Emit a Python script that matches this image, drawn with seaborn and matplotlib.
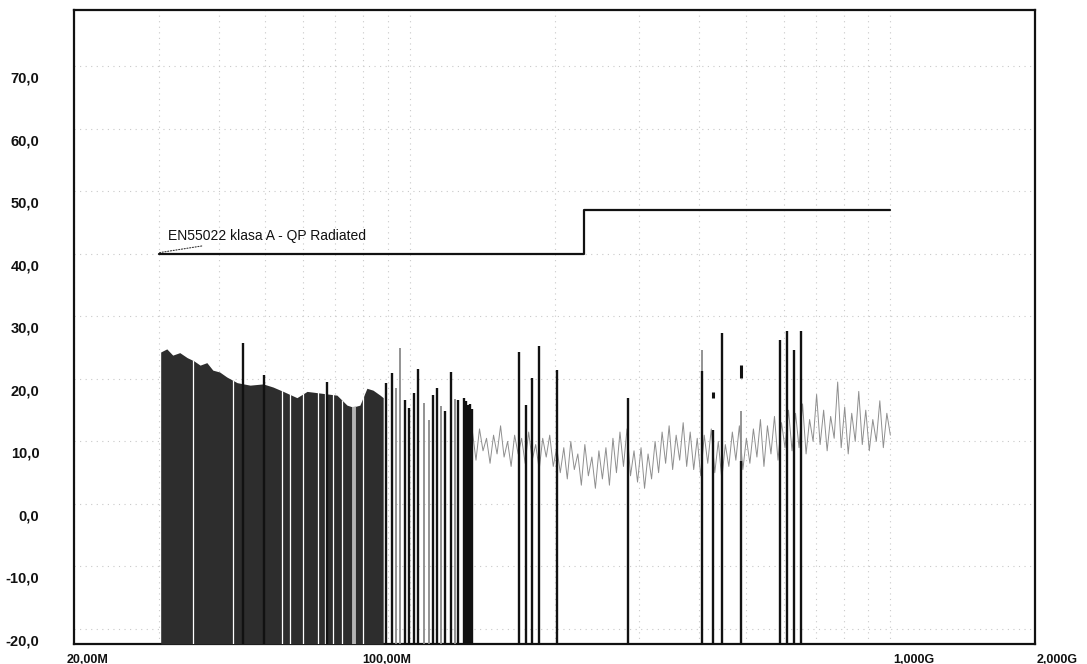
import numpy as np
import matplotlib
matplotlib.use("Agg")
import matplotlib.pyplot as plt
import matplotlib.transforms as mtransforms
from matplotlib.ticker import FixedLocator, NullFormatter
import seaborn as sns

# ---- axes ----
x_ticks_mhz = [20, 100, 1000, 2000]
x_tick_labels = ["20,00M", "100,00M", "1,000G", "2,000G"]
y_ticks = [-20, -10, 0, 10, 20, 30, 40, 50, 60, 70]
y_tick_labels = ["-20,0", "-10,0", "0,0", "10,0", "20,0", "30,0",
                 "40,0", "50,0", "60,0", "70,0"]
x_range_mhz = (20, 2000)
y_range = (-22.4, 79.0)

# ---- limit line ----
limit_name = "EN55022 klasa A - QP Radiated"
limit_freq = [30, 230, 230, 1000]
limit_level = [40, 40, 47, 47]

# ---- dense emission band (envelope of the trace, MHz / dBuV/m) ----
band_freq = [30.3, 31.2, 32.1, 33.2, 34.4, 35.5, 36.6, 37.8, 38.9, 40.2,
             41.6, 43.7, 46.5, 49.5, 51.9, 54.5, 58.2, 61.1, 64.1, 67.2,
             70.5, 74.0, 76.1, 78.7, 81.4, 83.8, 86.7, 88.0]
band_top = [24.3, 24.8, 23.8, 24.2, 23.4, 22.9, 22.2, 22.6, 21.4, 21.1,
            20.3, 19.4, 19.0, 19.2, 18.7, 18.0, 17.0, 18.0, 17.8, 17.6,
            17.4, 15.8, 15.5, 15.8, 18.5, 18.2, 17.4, 17.0]
# thin openings inside the band
gap_freq = [35.4, 42.8, 54.2, 56.3, 59.9, 64.4, 66.6, 69.2, 72.2, 80.0]
pale_freq = [76.6]

# ---- single emission lines ----
bar_freq = [44.9, 49.6, 67.2, 89.2, 91.8, 97.7, 99.6, 102.0, 104.0,
            111.7, 113.9, 118.3, 121.8, 126.0, 129.6, 130.8, 132.0,
            133.3, 134.7, 168.7, 174.5, 179.6, 185.7, 202.4, 284.4,
            405.6, 427.6, 446.4, 488.8, 589.5, 609.4, 630.2, 651.8]
bar_top = [25.8, 20.6, 19.5, 19.3, 20.9, 16.6, 15.3, 17.7, 21.6,
           17.4, 18.5, 14.8, 21.1, 16.6, 16.9, 16.5, 15.8,
           16.0, 15.2, 24.3, 15.8, 20.1, 25.2, 21.4, 16.9,
           21.2, 11.8, 27.3, 6.8, 26.2, 27.7, 24.6, 27.7]
faint_freq = [93.5, 95.4, 107.2, 109.6, 116.1, 124.1, 405.6, 488.8]
faint_top = [18.6, 24.9, 16.2, 13.4, 15.6, 16.8, 24.6, 14.8]
# short isolated trace fragments
mark_freq = [427.6, 488.8]
mark_low = [16.9, 20.2]
mark_high = [17.9, 22.2]

# ---- noise floor trace, 135 MHz .. 1 GHz ----
noise_start_mhz, noise_stop_mhz = 135, 1000
noise_level = [
    11.5, 7.0, 12.0, 8.5, 10.5, 6.5, 11.0, 8.0, 12.5, 7.5, 10.0, 6.0, 11.0, 8.0,
    10.5, 6.5, 11.5, 7.0, 9.5, 5.5, 10.5, 7.5, 11.0, 6.0, 9.0, 5.0,
    9.0, 4.0, 10.0, 5.5, 8.0, 3.0, 9.5, 4.5, 7.5, 2.5, 8.5, 4.0, 9.0, 3.0,
    10.5, 5.0, 11.5, 6.0, 12.0, 4.5,
    8.5, 3.5, 9.0, 2.5, 8.0, 4.0, 10.0, 5.0, 11.5, 6.5, 12.5, 5.5, 11.0, 7.0, 13.0,
    6.0, 11.5, 5.5, 10.5, 4.5, 11.0, 6.5, 12.0, 5.0, 10.0, 4.0, 9.5, 6.0, 11.5,
    7.0, 12.5, 5.5, 10.5,
    6.5, 12.0, 7.5, 13.5, 6.0, 12.5, 8.0, 14.0, 7.0, 13.0, 9.0, 15.0,
    8.5, 14.5, 9.0, 16.0, 8.0, 13.5, 10.0, 17.5, 9.5, 15.0, 8.5, 14.0, 10.5,
    19.5, 9.0, 15.5, 8.0, 14.5, 10.0, 18.0, 9.5, 15.0, 8.5, 13.5, 10.0, 16.5,
    9.0, 14.5, 11.0,
]
noise_freq = np.geomspace(noise_start_mhz, noise_stop_mhz, len(noise_level))

# ---- figure ----
sns.set_theme(style="white")
plt.rcParams["font.family"] = ["Liberation Sans", "DejaVu Sans"]

fig = plt.figure(figsize=(10.87, 6.64), dpi=100)
ax = fig.add_axes([74 / 1087, 20 / 664, 961 / 1087, 634 / 664])
ax.set_xscale("log")
ax.set_xlim(*x_range_mhz)
ax.set_ylim(*y_range)

# grid: log sub-decades on x, every 10 dB on y
minor_x = [m * d for d in (10, 100) for m in range(2, 10)]
ax.xaxis.set_minor_locator(FixedLocator(minor_x))
ax.xaxis.set_minor_formatter(NullFormatter())
ax.set_xticks(x_ticks_mhz)
ax.set_xticklabels(x_tick_labels)
ax.set_yticks(y_ticks)
ax.set_yticklabels(y_tick_labels)
grid_kw = dict(color="#c9c9c9", linestyle=(0, (1, 4)), linewidth=0.8)
ax.grid(True, which="major", axis="both", **grid_kw)
ax.grid(True, which="minor", axis="x", **grid_kw)
ax.set_axisbelow(True)

bottom = y_range[0]

# noise floor
sns.lineplot(x=noise_freq, y=noise_level, estimator=None, sort=False,
             color="#8f8f8f", linewidth=0.7, ax=ax, zorder=2)

# dense band, with its openings clipped to the band outline
band = ax.fill_between(band_freq, bottom, band_top, color="#2d2d2d",
                       linewidth=0, zorder=3)
gaps = ax.vlines(gap_freq, bottom, 30, color="white", linewidth=0.9, zorder=3.5)
pale = ax.vlines(pale_freq, bottom, 30, color="#b4b4b4", linewidth=2.8, zorder=3.4)
for coll in (gaps, pale):
    coll.set_clip_path(band.get_paths()[0], band.get_transform())

# emission lines
ax.vlines(faint_freq, bottom, faint_top, color="#8a8a8a", linewidth=1.3, zorder=3.6)
ax.vlines(bar_freq, bottom, bar_top, color="#111111", linewidth=1.7, zorder=4)
ax.vlines(mark_freq, mark_low, mark_high, color="#111111", linewidth=2.2, zorder=4)

# limit line
sns.lineplot(x=limit_freq, y=limit_level, estimator=None, sort=False,
             color="#111111", linewidth=1.6, ax=ax, zorder=5)
ax.annotate(limit_name, xy=(limit_freq[0] * 1.005, limit_level[0] + 0.2),
            xytext=(31.4, 42.9), ha="left", va="center",
            fontsize=10, color="#111111",
            arrowprops=dict(arrowstyle="-", linestyle=(0, (1, 1.5)),
                            color="#333333", linewidth=0.8,
                            shrinkA=0, shrinkB=0))

# frame
for side in ("left", "right", "top", "bottom"):
    ax.spines[side].set_visible(True)
    ax.spines[side].set_color("#111111")
    ax.spines[side].set_linewidth(1.6)

# tick labels
ax.tick_params(axis="both", which="both", length=0)
ax.tick_params(axis="y", pad=25)
ax.tick_params(axis="x", pad=7)
for lab in ax.get_yticklabels():
    lab.set_fontsize(10.5)
    lab.set_fontweight("bold")
    lab.set_color("#111111")
    lab.set_transform(lab.get_transform() +
                      mtransforms.ScaledTranslation(0, -11 / 100, fig.dpi_scale_trans))
x_shift_px = [-7, -48, 3, 2]
for lab, dx in zip(ax.get_xticklabels(), x_shift_px):
    lab.set_fontsize(9)
    lab.set_fontweight("bold")
    lab.set_color("#111111")
    lab.set_horizontalalignment("left")
    lab.set_transform(lab.get_transform() +
                      mtransforms.ScaledTranslation(dx / 100, 0, fig.dpi_scale_trans))

ax.set_xlabel("")
ax.set_ylabel("")
fig.savefig("out.png", dpi=100)
